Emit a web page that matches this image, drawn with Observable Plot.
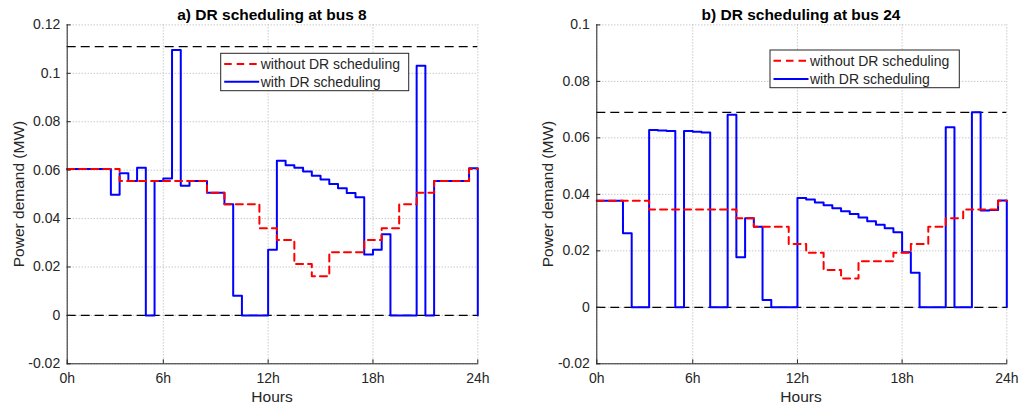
<!DOCTYPE html>
<html><head><meta charset="utf-8">
<script src="https://cdn.jsdelivr.net/npm/d3@7"></script>
<script src="https://cdn.jsdelivr.net/npm/@observablehq/plot@0.6"></script>
<style>
body{margin:0;background:#fff;}
#wrap{position:relative;width:1020px;height:408px;overflow:hidden;font-family:"Liberation Sans",Arial,sans-serif;}
#wrap svg{position:absolute;top:0;}
</style></head><body><div id="wrap"></div>
<script>
// x positions: 48 half-hour slots; ticks at slots 1,12,24,36,48
const hourTicks = [1, 12, 24, 36, 48];
const hourLabels = ["0h", "6h", "12h", "18h", "24h"];

// a) bus 8
const busA_without = [0.0605,0.0605,0.0605,0.0605,0.0605,0.0605,0.0555,0.0555,0.0555,0.0555,0.0555,0.0555,0.0555,0.0555,0.0555,0.0555,0.0507,0.0507,0.0459,0.0459,0.0459,0.0459,0.036,0.036,0.0311,0.0311,0.0212,0.0212,0.0162,0.0162,0.0261,0.0261,0.0261,0.0261,0.0311,0.0311,0.036,0.036,0.0459,0.0459,0.0507,0.0507,0.0555,0.0555,0.0555,0.0555,0.0605,0.0605];
const busA_with = [0.0605,0.0605,0.0605,0.0605,0.0605,0.0498,0.0587,0.0555,0.061,0,0.0555,0.0565,0.1096,0.0536,0.0555,0.0555,0.0507,0.0507,0.0459,0.0081,0,0,0,0.0271,0.0639,0.062,0.061,0.0594,0.0577,0.0561,0.0543,0.0525,0.0506,0.0488,0.0252,0.0271,0.0335,0,0,0,0.1031,0,0.0555,0.0555,0.0555,0.0555,0.0608,0];
const busA_limits = [0, 0.111];
const busA_yTicks = [-0.02, 0, 0.02, 0.04, 0.06, 0.08, 0.1, 0.12];
const busA_yLabels = ["-0.02", "0", "0.02", "0.04", "0.06", "0.08", "0.1", "0.12"];

// b) bus 24
const busB_without = [0.0377,0.0377,0.0377,0.0377,0.0377,0.0377,0.0346,0.0346,0.0346,0.0346,0.0346,0.0346,0.0346,0.0346,0.0346,0.0346,0.0315,0.0315,0.0285,0.0285,0.0285,0.0285,0.0224,0.0224,0.0193,0.0193,0.0132,0.0132,0.0102,0.0102,0.0163,0.0163,0.0163,0.0163,0.0193,0.0193,0.0224,0.0224,0.0285,0.0285,0.0315,0.0315,0.0346,0.0346,0.0346,0.0346,0.0377,0.0377];
const busB_with = [0.0377,0.0377,0.0377,0.0262,0,0,0.0628,0.0626,0.0624,0,0.0624,0.0622,0.0619,0,0,0.0682,0.0177,0.0315,0.0285,0.0026,0,0,0,0.0387,0.0382,0.0371,0.0361,0.0351,0.034,0.033,0.0318,0.0305,0.0292,0.028,0.0266,0.0195,0.0122,0,0,0,0.0638,0,0,0.0691,0.0343,0.0345,0.0378,0];
const busB_limits = [0, 0.069];
const busB_yTicks = [-0.02, 0, 0.02, 0.04, 0.06, 0.08, 0.1];
const busB_yLabels = ["-0.02", "0", "0.02", "0.04", "0.06", "0.08", "0.1"];

const titles = ["a) DR scheduling at bus 8", "b) DR scheduling at bus 24"];
const yLabel = "Power demand (MW)";
const xLabel = "Hours";
const legendLabels = ["without DR scheduling", "with DR scheduling"];

const H = 408;
const AX = "#262626";
const wrap = document.getElementById("wrap");

function makePanel(cfg) {
  const rowsWithout = cfg.without.map((v, i) => ({slot: i + 1, v}));
  const rowsWith = cfg.withDR.map((v, i) => ({slot: i + 1, v}));
  const pw = cfg.width - cfg.mL - cfg.mR, ph = H - cfg.mT - cfg.mB;
  const grid = {stroke: "#b0b0b0", strokeOpacity: 1, strokeDasharray: "1,2", strokeWidth: 1};
  const chart = Plot.plot({
    width: cfg.width, height: H,
    marginLeft: cfg.mL, marginRight: cfg.mR, marginTop: cfg.mT, marginBottom: cfg.mB,
    style: {fontFamily: '"Liberation Sans", Arial, sans-serif', fontSize: "14px", color: AX, background: "transparent", overflow: "visible"},
    x: {domain: [1, 48]},
    y: {domain: cfg.yDomain},
    marks: [
      Plot.gridX(hourTicks, grid),
      Plot.gridY(cfg.yTicks, grid),
      Plot.ruleY(cfg.limits, {stroke: "#000", strokeWidth: 1.2, strokeDasharray: "9,5"}),
      Plot.line(rowsWith, {x: "slot", y: "v", curve: "step-after", stroke: "#0000ff", strokeWidth: 2}),
      Plot.line(rowsWithout, {x: "slot", y: "v", curve: "step-after", stroke: "#ff0000", strokeWidth: 2, strokeDasharray: "7,5"}),
      Plot.tickY(cfg.yTicks, {stroke: AX, insetRight: pw - 4}),
      Plot.tickX(hourTicks, {stroke: AX, insetTop: ph - 4}),
      Plot.axisY(cfg.yTicks, {tickSize: 0, tickPadding: 7, label: null, fontSize: 14, tickFormat: d => cfg.yLabels[cfg.yTicks.indexOf(d)]}),
      Plot.axisX(hourTicks, {tickSize: 0, tickPadding: 9, label: null, fontSize: 14, tickFormat: d => hourLabels[hourTicks.indexOf(d)]}),
      Plot.frame({anchor: "left", stroke: AX}),
      Plot.frame({anchor: "bottom", stroke: AX})
    ]
  });
  chart.style.left = cfg.left + "px";
  wrap.appendChild(chart);
}

makePanel({left: 0, width: 510, mL: 66.7, mR: 32.7, mT: 24.4, mB: 44.7, yDomain: [-0.02, 0.12],
  without: busA_without, withDR: busA_with, limits: busA_limits, yTicks: busA_yTicks, yLabels: busA_yLabels});
makePanel({left: 510, width: 510, mL: 86.3, mR: 13.7, mT: 24.4, mB: 44.7, yDomain: [-0.02, 0.1],
  without: busB_without, withDR: busB_with, limits: busB_limits, yTicks: busB_yTicks, yLabels: busB_yLabels});

// overlay: titles, axis labels, legends
const ov = d3.select(wrap).append("svg").attr("width", 1020).attr("height", H)
  .style("left", "0px").style("font-family", '"Liberation Sans", Arial, sans-serif');
const panels = [
  {cx: 272, axisX: 66.7, legend: {x: 220.7, y: 53.3, w: 188, h: 37.4, r1: 64, r2: 81.7}},
  {cx: 801, axisX: 596.3, legend: {x: 770, y: 50, w: 189.3, h: 37.7, r1: 60.7, r2: 79}}
];
panels.forEach((p, i) => {
  ov.append("text").attr("x", p.cx).attr("y", 14).attr("text-anchor", "middle").attr("dominant-baseline", "central")
    .attr("font-weight", "bold").attr("font-size", 15.5).attr("fill", "#000").text(titles[i]);
  ov.append("text").attr("x", p.cx).attr("y", 396.5).attr("text-anchor", "middle").attr("dominant-baseline", "central")
    .attr("font-size", 15.5).attr("fill", AX).text(xLabel);
  ov.append("text").attr("transform", `translate(${p.axisX - 48.5},194) rotate(-90)`).attr("text-anchor", "middle")
    .attr("dominant-baseline", "central").attr("font-size", 15.5).attr("fill", AX).text(yLabel);
  const L = p.legend;
  ov.append("rect").attr("x", L.x).attr("y", L.y).attr("width", L.w).attr("height", L.h)
    .attr("fill", "#fff").attr("stroke", AX).attr("stroke-width", 1);
  ov.append("line").attr("x1", L.x + 3.5).attr("x2", L.x + 38.5).attr("y1", L.r1).attr("y2", L.r1)
    .attr("stroke", "#ff0000").attr("stroke-width", 2).attr("stroke-dasharray", "7.5,5");
  ov.append("line").attr("x1", L.x + 3.5).attr("x2", L.x + 38.5).attr("y1", L.r2).attr("y2", L.r2)
    .attr("stroke", "#0000ff").attr("stroke-width", 2);
  [L.r1, L.r2].forEach((ry, j) => {
    ov.append("text").attr("x", L.x + 40).attr("y", ry).attr("dominant-baseline", "central")
      .attr("font-size", 14).attr("fill", AX).text(legendLabels[j]);
  });
});
</script></body></html>
